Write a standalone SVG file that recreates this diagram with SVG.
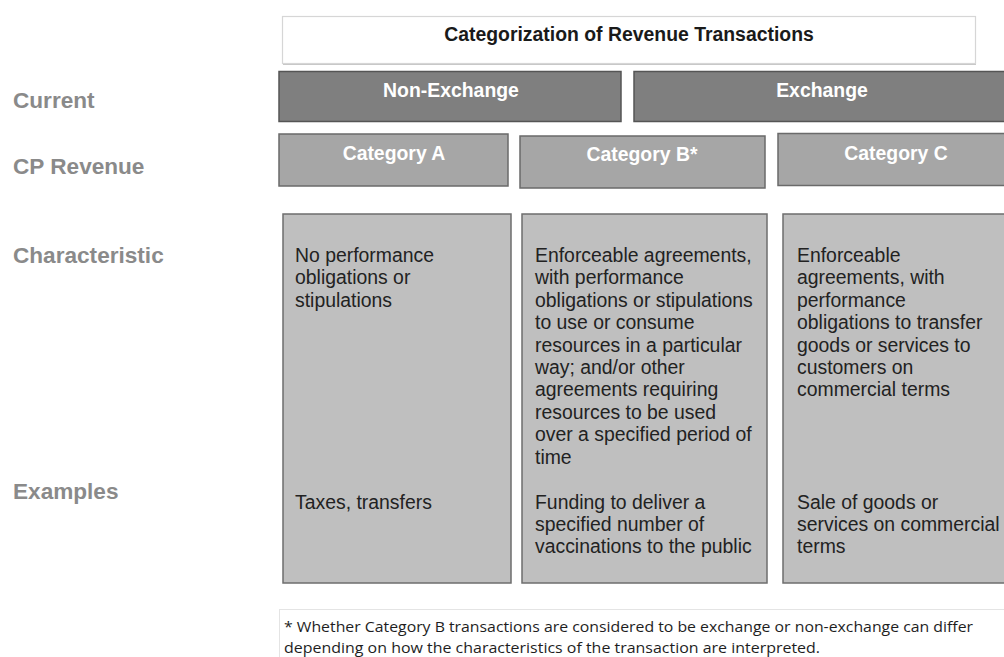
<svg xmlns="http://www.w3.org/2000/svg" width="1004" height="657" viewBox="0 0 1004 657">
<style>
  .lbl{font-family:"Liberation Sans",Arial,sans-serif;font-weight:bold;font-size:22.6px;fill:#8a8a8a}
  .hdr{font-family:"Liberation Sans",Arial,sans-serif;font-weight:bold;font-size:19.4px;fill:#ffffff;text-anchor:middle}
  .ttl{font-family:"Liberation Sans",Arial,sans-serif;font-weight:bold;font-size:19.4px;fill:#1a1a1a;text-anchor:middle}
  .body{font-family:"Liberation Sans",Arial,sans-serif;font-size:19.4px;fill:#222222}
  .foot{font-family:"Open Sans","Noto Sans",sans-serif;font-size:15px;fill:#1e1e1e}
  .dark{fill:#7f7f7f;stroke:#555555;stroke-width:1.5}
  .mid{fill:#a6a6a6;stroke:#6a6a6a;stroke-width:1.5}
  .light{fill:#bfbfbf;stroke:#6e6e6e;stroke-width:1.5}
</style>
<rect width="1004" height="657" fill="#ffffff"/>

<g id="row-labels">
  <text class="lbl" x="13" y="108">Current</text>
  <text class="lbl" x="13" y="174">CP Revenue</text>
  <text class="lbl" x="13" y="263">Characteristic</text>
  <text class="lbl" x="13" y="499">Examples</text>
</g>

<g id="title">
  <rect x="282.5" y="16.5" width="693" height="47" fill="#ffffff" stroke="#d6d6d6" stroke-width="1.2"/>
  <line x1="283" y1="64.5" x2="976" y2="64.5" stroke="#c8c8c8" stroke-width="1"/>
  <text class="ttl" x="629" y="41">Categorization of Revenue Transactions</text>
</g>

<g id="non-exchange">
  <rect class="dark" x="279" y="71.5" width="342" height="50"/>
  <text class="hdr" x="451" y="97">Non-Exchange</text>
</g>
<g id="exchange">
  <rect class="dark" x="634" y="71.5" width="380" height="50"/>
  <text class="hdr" x="822" y="97">Exchange</text>
</g>

<g id="category-a">
  <rect class="mid" x="279" y="134" width="229" height="52"/>
  <text class="hdr" x="394" y="160">Category A</text>
</g>
<g id="category-b">
  <rect class="mid" x="520" y="136" width="245" height="52"/>
  <text class="hdr" x="642" y="161">Category B*</text>
</g>
<g id="category-c">
  <rect class="mid" x="778" y="133.5" width="236" height="52"/>
  <text class="hdr" x="896" y="160">Category C</text>
</g>

<g id="details-a">
  <rect class="light" x="283" y="214" width="228" height="369"/>
  <text class="body" y="262">
    <tspan x="295">No performance</tspan>
    <tspan x="295" dy="22.4">obligations or</tspan>
    <tspan x="295" dy="22.4">stipulations</tspan>
  </text>
  <text class="body" x="295" y="509">Taxes, transfers</text>
</g>

<g id="details-b">
  <rect class="light" x="522" y="214" width="245" height="369"/>
  <text class="body" y="262">
    <tspan x="535">Enforceable agreements,</tspan>
    <tspan x="535" dy="22.4">with performance</tspan>
    <tspan x="535" dy="22.4">obligations or stipulations</tspan>
    <tspan x="535" dy="22.4">to use or consume</tspan>
    <tspan x="535" dy="22.4">resources in a particular</tspan>
    <tspan x="535" dy="22.4">way; and/or other</tspan>
    <tspan x="535" dy="22.4">agreements requiring</tspan>
    <tspan x="535" dy="22.4">resources to be used</tspan>
    <tspan x="535" dy="22.4">over a specified period of</tspan>
    <tspan x="535" dy="22.4">time</tspan>
  </text>
  <text class="body" y="509">
    <tspan x="535">Funding to deliver a</tspan>
    <tspan x="535" dy="22">specified number of</tspan>
    <tspan x="535" dy="22">vaccinations to the public</tspan>
  </text>
</g>

<g id="details-c">
  <rect class="light" x="783" y="214" width="231" height="369"/>
  <text class="body" y="262">
    <tspan x="797">Enforceable</tspan>
    <tspan x="797" dy="22.4">agreements, with</tspan>
    <tspan x="797" dy="22.4">performance</tspan>
    <tspan x="797" dy="22.4">obligations to transfer</tspan>
    <tspan x="797" dy="22.4">goods or services to</tspan>
    <tspan x="797" dy="22.4">customers on</tspan>
    <tspan x="797" dy="22.4">commercial terms</tspan>
  </text>
  <text class="body" y="509">
    <tspan x="797">Sale of goods or</tspan>
    <tspan x="797" dy="22">services on commercial</tspan>
    <tspan x="797" dy="22">terms</tspan>
  </text>
</g>

<g id="footnote">
  <rect x="279.5" y="609.5" width="740" height="60" fill="#ffffff" stroke="#e4e4e4" stroke-width="1"/>
  <text class="foot" x="284" y="632" textLength="689" lengthAdjust="spacingAndGlyphs">* Whether Category B transactions are considered to be exchange or non-exchange can differ</text>
  <text class="foot" x="284" y="653" textLength="536" lengthAdjust="spacingAndGlyphs">depending on how the characteristics of the transaction are interpreted.</text>
</g>

<g id="connectors"></g>
</svg>
